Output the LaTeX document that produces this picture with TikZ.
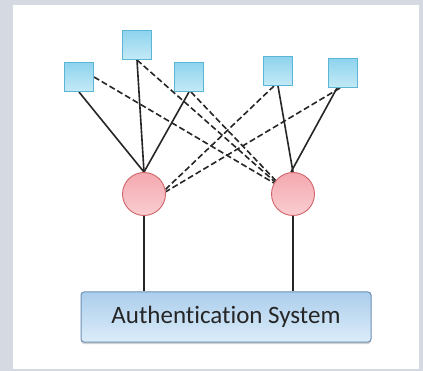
\documentclass[tikz,border=0pt]{standalone}
\usepackage{fontspec}
\setmainfont{Carlito}[Ligatures=NoCommon]
\usetikzlibrary{shadows}
\pgfdeclarelayer{bglayer}
\pgfdeclarelayer{linklayer}
\pgfsetlayers{bglayer,linklayer,main}
\definecolor{bggray}{HTML}{D5DAE2}
\definecolor{sqtop}{HTML}{8ED3EE}
\definecolor{sqbot}{HTML}{C4EAF6}
\definecolor{sqline}{HTML}{5AB6D4}
\definecolor{cfill}{HTML}{F4A9AF}
\definecolor{cfill2}{HTML}{F9CDD1}
\definecolor{cline}{HTML}{D0646B}
\definecolor{boxtop}{HTML}{ABCEEC}
\definecolor{boxbot}{HTML}{DCECF9}
\definecolor{boxline}{HTML}{6E90B6}
\definecolor{txt}{HTML}{262626}
\definecolor{wire}{HTML}{262626}
\tikzset{
  sq/.style={draw=sqline, line width=1pt, top color=sqtop, bottom color=sqbot,
             minimum size=29pt, inner sep=0pt},
  srv/.style={circle, draw=cline, line width=0.9pt, top color=cfill, bottom color=cfill2,
              minimum size=43pt, inner sep=0pt},
  authbox/.style={draw=boxline, line width=1pt, rounded corners=3pt,
                  top color=boxtop, bottom color=boxbot,
                  minimum width=290pt, minimum height=50pt, inner sep=0pt,
                  drop shadow={shadow xshift=0pt, shadow yshift=-2pt, opacity=0.35}},
  link/.style={draw=wire, line width=1.6pt},
  dlink/.style={draw=wire, line width=1.6pt, dash pattern=on 6pt off 3pt},
}
\begin{document}
\begin{tikzpicture}[x=1pt, y=-1pt]
\useasboundingbox (0,0) rectangle (423,371);
\begin{pgfonlayer}{bglayer}
\fill[bggray] (0,0) rectangle (423,371);
\fill[white] (13,5) rectangle (419,369);
\end{pgfonlayer}
\node[sq] (s1) at (79,77) {};
\node[sq] (s2) at (137,45) {};
\node[sq] (s3) at (189,77) {};
\node[sq] (s4) at (278,71) {};
\node[sq] (s5) at (343,73) {};
\node[srv] (c1) at (144,194) {};
\node[srv] (c2) at (293,194) {};
\node[authbox, font=\fontsize{25}{27}\selectfont, text=txt] (auth) at (226,317) {Authentication System};
\begin{pgfonlayer}{linklayer}
% solid links
\draw[link] (c1.north) -- (s1.south);
\draw[link] (c1.north) -- (s2.south);
\draw[link] (c1.north) -- (s3.south);
\draw[link] (c2.north) -- (s4.south);
\draw[link] ([xshift=-2pt]c2.north) -- ([xshift=-6pt]s5.south);
% dashed links
\draw[dlink] (s1.east) -- (c2.150);
\draw[dlink] (s2.south) -- (c2.146);
\draw[dlink] ([xshift=2pt]s3.south) -- (c2.142);
\draw[dlink] ([xshift=-4pt]s4.south) -- (c1.12);
\draw[dlink] ([xshift=-3pt]s5.south) -- (c1.6);
% vertical links to auth
\draw[link, line width=1.4pt] (c1.south) -- (c1.south |- auth.north);
\draw[link, line width=1.4pt] (c2.south) -- (c2.south |- auth.north);
\end{pgfonlayer}
\end{tikzpicture}
\end{document}
